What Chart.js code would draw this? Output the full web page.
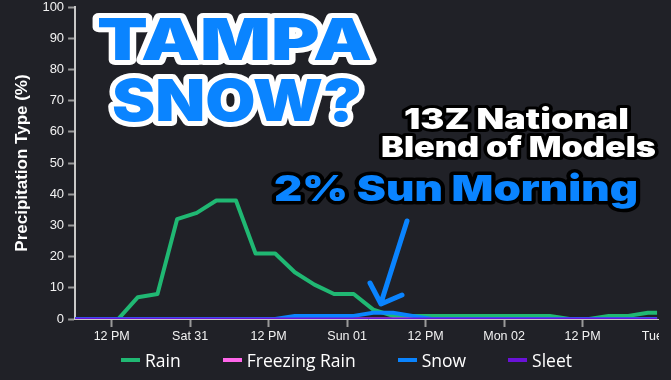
<!DOCTYPE html>
<html lang="en">
<head>
<meta charset="UTF-8">
<title>Tampa Snow? - Precipitation Type</title>
<style>
    body {
        margin: 0;
        background: #202127;
    }

    .frame {
        position: relative;
        width: 671px;
        height: 380px;
        overflow: hidden;
        background: #202127;
    }

    .chart-box {
        position: absolute;
        left: 0;
        top: 0;
        width: 659px;
        height: 380px;
        overflow: hidden;
    }

    .legend {
        position: absolute;
        left: 0;
        top: 348px;
        width: 693px;
        display: flex;
        justify-content: center;
        gap: 42px;
        font-family: "Open Sans", sans-serif;
        font-size: 17.5px;
        line-height: 24px;
        color: #fff;
    }

    .legend span {
        display: flex;
        align-items: center;
    }

    .legend i {
        display: inline-block;
        width: 19px;
        height: 4px;
        margin-right: 5px;
    }

    .overlay {
        position: absolute;
        left: 0;
        top: 0;
        pointer-events: none;
    }

    .big {
        font-family: Inter, Roboto, "DejaVu Sans", sans-serif;
        font-weight: 900;
        paint-order: stroke fill;
        stroke-linejoin: round;
    }
</style>
</head>
<body>

<div class="frame">
    <div class="chart-box">
        <canvas id="precipChart" width="690" height="380"></canvas>
    </div>

    <div class="legend" id="legend"></div>

    <!-- annotation layer -->
    <svg class="overlay" width="671" height="380">
        <text class="big" x="97" y="60" font-size="58" textLength="275" lengthAdjust="spacingAndGlyphs"
              fill="#0a84ff" stroke="#fff" stroke-width="10">TAMPA</text>
        <text class="big" x="112" y="121" font-size="58" textLength="250" lengthAdjust="spacingAndGlyphs"
              fill="#0a84ff" stroke="#fff" stroke-width="10">SNOW?</text>

        <text class="big" x="404" y="129" font-size="28" textLength="225" lengthAdjust="spacingAndGlyphs"
              fill="#fff" stroke="#000" stroke-width="6">13Z National</text>
        <text class="big" x="381" y="157" font-size="28" textLength="275" lengthAdjust="spacingAndGlyphs"
              fill="#fff" stroke="#000" stroke-width="6">Blend of Models</text>

        <text class="big" x="274" y="201" font-size="36" textLength="364" lengthAdjust="spacingAndGlyphs"
              fill="#0a84ff" stroke="#000" stroke-width="7">2% Sun Morning</text>

        <path d="M407 221 L381 303 M370 283 L381 304 L402 295" fill="none"
              stroke="#0a84ff" stroke-width="5" stroke-linecap="round" stroke-linejoin="round"/>
    </svg>
</div>

<script src="https://cdn.jsdelivr.net/npm/chart.js"></script>
<script>
    // hours counted from Fri 30, 00:00 local
    const hours = [6.4, 7, 10, 13, 16, 19, 22, 25, 28, 31, 34, 37, 40, 43, 46, 49, 52, 55, 58, 61,
        64, 67, 70, 73, 76, 79, 82, 85, 88, 91, 94, 95.4];

    const rain = [0, 0, 0, 0, 7, 8, 32, 34, 38, 38, 21, 21, 15, 11, 8, 8, 3, 1, 1, 1,
        1, 1, 1, 1, 1, 1, 0, 0, 1, 1, 2, 2];
    const freezingRain = [0, 0, 0, 0, 0, 0, 0, 0, 0, 0, 0, 0, 0, 0, 0, 0, 0, 0, 0, 0,
        0, 0, 0, 0, 0, 0, 0, 0, 0, 0, 0, 0];
    const snow = [0, 0, 0, 0, 0, 0, 0, 0, 0, 0, 0, 0, 1, 1, 1, 1, 2, 2, 1, 0,
        0, 0, 0, 0, 0, 0, 0, 0, 0, 0, 0, 0];
    const sleet = [0, 0, 0, 0, 0, 0, 0, 0, 0, 0, 0, 0, 0, 0, 0, 0, 0, 0, 0, 0,
        0, 0, 0, 0, 0, 0, 0, 0, 0, 0, 0, 0];

    const tickHours = [12, 24, 36, 48, 60, 72, 84, 96];
    const tickLabels = ['12 PM', 'Sat 31', '12 PM', 'Sun 01', '12 PM', 'Mon 02', '12 PM', 'Tue 03'];

    const pts = (arr) => hours.map((h, i) => ({ x: h, y: arr[i] }));

    const ctx = document.getElementById('precipChart').getContext('2d');
    const precipChart = new Chart(ctx, {
        type: 'line',
        data: {
            datasets: [
                { label: 'Rain', data: pts(rain), borderColor: '#20b873', borderWidth: 4, order: 4 },
                { label: 'Freezing Rain', data: pts(freezingRain), borderColor: '#ff66ea', borderWidth: 3, order: 3 },
                { label: 'Snow', data: pts(snow), borderColor: '#0a84ff', borderWidth: 4, order: 2 },
                { label: 'Sleet', data: pts(sleet), borderColor: '#6a12d8', borderWidth: 3, order: 1 }
            ]
        },
        options: {
            responsive: false,
            animation: false,
            elements: {
                point: { radius: 0 },
                line: { tension: 0, borderJoinStyle: 'round' }
            },
            layout: {
                padding: { left: 12, right: 29, top: 7, bottom: 34 }
            },
            plugins: {
                legend: { display: false },
                tooltip: { enabled: false }
            },
            scales: {
                x: {
                    type: 'linear',
                    min: 6.4,
                    max: 96,
                    afterBuildTicks: (scale) => {
                        scale.ticks = tickHours.map(v => ({ value: v }));
                    },
                    ticks: {
                        autoSkip: false,
                        maxRotation: 0,
                        padding: 2,
                        color: '#f2f2f2',
                        font: { family: 'Liberation Sans', size: 12.5 },
                        callback: (v, i) => tickLabels[i]
                    },
                    grid: {
                        drawOnChartArea: false,
                        drawTicks: true,
                        tickLength: 8,
                        tickColor: '#9a9a9a',
                        tickWidth: 2
                    },
                    border: { color: '#c8c8c8', width: 1 }
                },
                y: {
                    min: 0,
                    max: 100,
                    afterFit: (scale) => {
                        scale.paddingTop = 0;
                    },
                    ticks: {
                        stepSize: 10,
                        padding: 4,
                        color: '#f2f2f2',
                        font: { family: 'Liberation Sans', size: 13 }
                    },
                    grid: {
                        drawOnChartArea: false,
                        drawTicks: true,
                        tickLength: 7,
                        tickColor: '#9a9a9a',
                        tickWidth: 2
                    },
                    border: { color: '#c8c8c8', width: 2 },
                    title: {
                        display: true,
                        text: 'Precipitation Type (%)',
                        color: '#fff',
                        padding: { top: 0, bottom: 6 },
                        font: { family: 'Liberation Sans', size: 17, weight: 'bold' }
                    }
                }
            }
        }
    });

    // html legend, built from the datasets
    const legend = document.getElementById('legend');
    precipChart.data.datasets.forEach(ds => {
        const item = document.createElement('span');
        const mark = document.createElement('i');
        mark.style.background = ds.borderColor;
        item.appendChild(mark);
        item.appendChild(document.createTextNode(ds.label));
        legend.appendChild(item);
    });
</script>

</body>
</html>
